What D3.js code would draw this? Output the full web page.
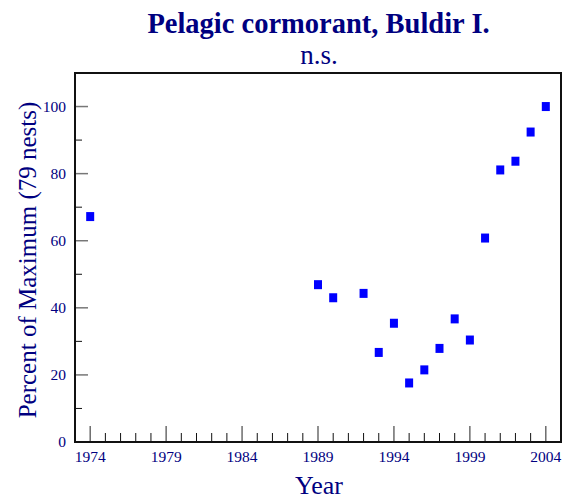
<!DOCTYPE html>
<html><head><meta charset="utf-8">
<script src="https://cdn.jsdelivr.net/npm/d3@7"></script>
<style>body{margin:0;background:#fff}svg{display:block}text{font-family:"Liberation Serif","Times New Roman",serif}</style>
</head><body><svg id="c" width="569" height="500"></svg>
<script>
const years = [1974, 1989, 1990, 1992, 1993, 1994, 1995, 1996, 1997, 1998, 1999, 2000, 2001, 2002, 2003, 2004];
const percents = [67.2, 46.9, 43.0, 44.3, 26.7, 35.4, 17.6, 21.5, 27.9, 36.7, 30.4, 60.8, 81.1, 83.7, 92.4, 100];
const xTickLabels = [1974, 1979, 1984, 1989, 1994, 1999, 2004];
const yTickLabels = [0, 20, 40, 60, 80, 100];
const title = "Pelagic cormorant, Buldir I.";
const subtitle = "n.s.";

const svg = d3.select("#c");
const L = 75, R = 561, T = 73, B = 442;
const x = d3.scaleLinear().domain([1973, 2005]).range([L, R]);
const y = d3.scaleLinear().domain([0, 110]).range([B, T]);
const navy = "#000080";

// minor y ticks
svg.append("g").selectAll("line").data(d3.range(10, 110, 20)).join("line")
  .attr("x1", L).attr("x2", L + 7).attr("y1", d => y(d)).attr("y2", d => y(d))
  .attr("stroke", "#111").attr("stroke-width", 1);
// major y ticks
svg.append("g").selectAll("line").data(yTickLabels).join("line")
  .attr("x1", L).attr("x2", L + 13).attr("y1", d => y(d)).attr("y2", d => y(d))
  .attr("stroke", "#777").attr("stroke-width", 1.5);
// x minor ticks
svg.append("g").selectAll("line").data(d3.range(1974, 2005).filter(v => !xTickLabels.includes(v))).join("line")
  .attr("x1", d => x(d)).attr("x2", d => x(d)).attr("y1", B).attr("y2", B - 9)
  .attr("stroke", "#111").attr("stroke-width", 1);
svg.append("g").selectAll("line").data(xTickLabels).join("line")
  .attr("x1", d => x(d)).attr("x2", d => x(d)).attr("y1", B).attr("y2", B - 16)
  .attr("stroke", "#555").attr("stroke-width", 1.3);

// frame
svg.append("rect").attr("x", L).attr("y", T).attr("width", R - L).attr("height", B - T)
  .attr("fill", "none").attr("stroke", "#111").attr("stroke-width", 2);

// tick labels
svg.append("g").selectAll("text").data(yTickLabels).join("text")
  .attr("x", L - 9).attr("y", d => y(d) + 5).attr("text-anchor", "end")
  .attr("font-size", 15.5).attr("fill", navy).text(d => d);
svg.append("g").selectAll("text").data(xTickLabels).join("text")
  .attr("x", d => x(d)).attr("y", B + 20).attr("text-anchor", "middle")
  .attr("font-size", 15.5).attr("fill", navy).text(d => d);

// points
svg.append("g").selectAll("rect").data(years.map((yr, i) => [yr, percents[i]])).join("rect")
  .attr("x", d => x(d[0]) - 4).attr("y", d => y(d[1]) - 4.5)
  .attr("width", 8).attr("height", 9).attr("fill", "#0000ff");

// titles
svg.append("text").attr("x", 318.5).attr("y", 33).attr("text-anchor", "middle")
  .attr("font-size", 28.5).attr("font-weight", "bold").attr("fill", navy).text(title);
svg.append("text").attr("x", 319).attr("y", 64).attr("text-anchor", "middle")
  .attr("font-size", 27).attr("fill", navy).text(subtitle);
svg.append("text").attr("x", 319).attr("y", 494).attr("text-anchor", "middle")
  .attr("font-size", 26).attr("fill", navy).text("Year");
svg.append("text").attr("transform", "translate(36,260) rotate(-90)").attr("text-anchor", "middle")
  .attr("font-size", 25).attr("fill", navy).text("Percent of Maximum (79 nests)");
</script></body></html>
